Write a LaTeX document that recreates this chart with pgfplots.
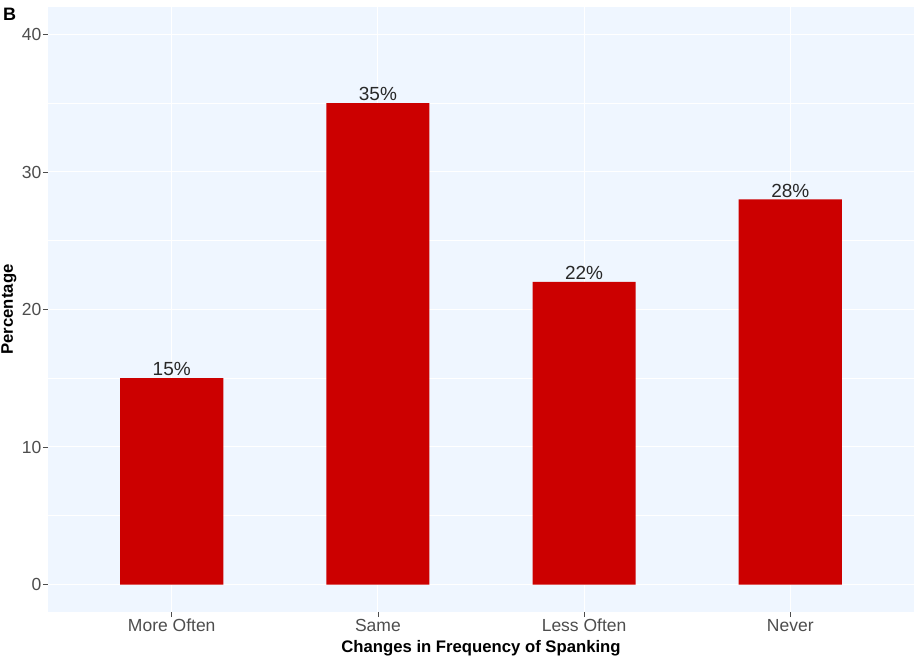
\documentclass[border=0pt]{standalone}
\usepackage{fontspec}
\setmainfont{Liberation Sans}
\usepackage{pgfplots}
\pgfplotsset{compat=1.18}
\definecolor{panel}{RGB}{239,246,255}
\definecolor{barred}{RGB}{204,0,0}
\definecolor{ticktext}{RGB}{77,77,77}
\definecolor{labtext}{RGB}{40,40,40}
\begin{document}
\begin{tikzpicture}[x=1pt,y=1pt]
\useasboundingbox (0,0) rectangle (922,662);
\begin{axis}[
  at={(48pt,50pt)}, anchor=south west,
  scale only axis, width=866pt, height=605pt,
  xmin=0.4, xmax=4.6, ymin=-2, ymax=42,
  axis line style={draw=none},
  axis background/.style={fill=panel},
  xtick={1,2,3,4}, xticklabels={More Often,Same,Less Often,Never},
  ytick={0,10,20,30,40}, minor ytick={5,15,25,35},
  grid=both,
  major grid style={white, line width=1pt},
  minor grid style={white, line width=0.5pt},
  tick align=outside, major tick length=5pt, minor tick length=0pt,
  tick style={color=ticktext, line width=0.8pt},
  xtick pos=bottom, ytick pos=left,
  /pgf/number format/assume math mode=true,
  ticklabel style={font=\fontsize{17.5}{17.5}\selectfont, color=ticktext},
  yticklabel style={inner sep=1.5pt},
  xticklabel style={inner sep=2pt},
  xlabel={Changes in Frequency of Spanking},
  xlabel style={font=\fontsize{16.7}{17}\selectfont\bfseries, at={(axis description cs:0.5,0)}, anchor=base, yshift=-40pt},
  ylabel={Percentage},
  ylabel style={font=\fontsize{16.7}{17}\selectfont\bfseries, at={(axis description cs:0,0.5)}, anchor=base, yshift=35pt},
  ybar, bar width=0.5, bar shift=0pt,
  nodes near coords={\pgfmathprintnumber{\pgfplotspointmeta}\%},
  nodes near coords style={font=\fontsize{19}{19}\selectfont, color=labtext, anchor=south, inner sep=0pt, yshift=2pt},
]
\addplot[fill=barred, draw=none] coordinates {(1,15) (2,35) (3,22) (4,28)};
\end{axis}
\node[anchor=base west, inner sep=0pt, font=\fontsize{18}{18}\selectfont\bfseries] at (3,641) {B};
\end{tikzpicture}
\end{document}
